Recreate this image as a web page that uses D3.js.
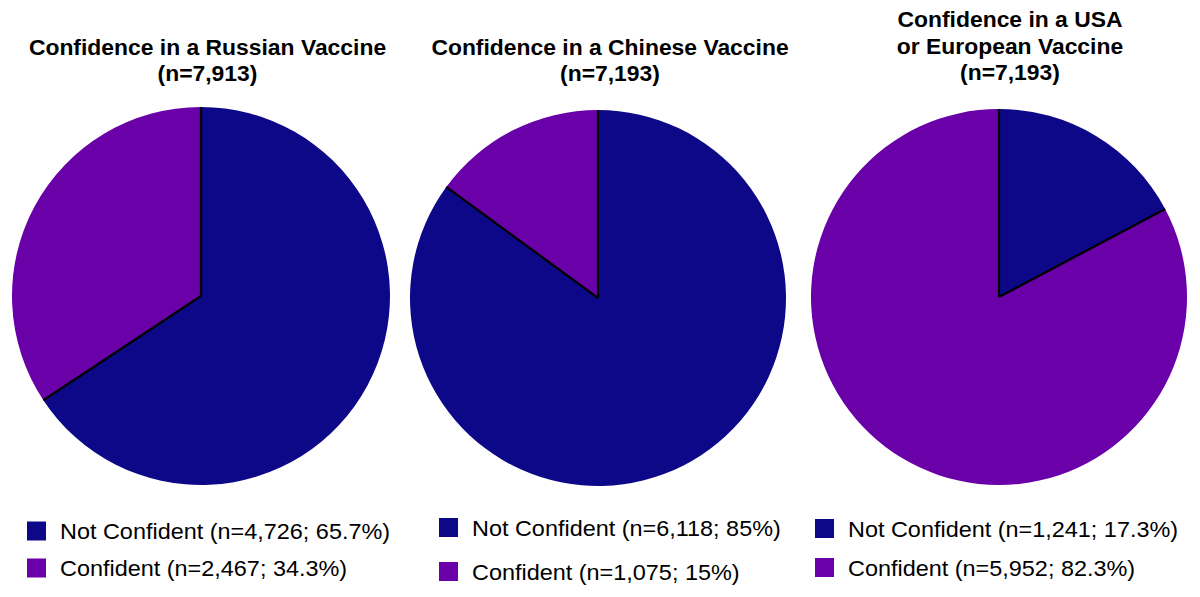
<!DOCTYPE html>
<html><head><meta charset="utf-8">
<script src="https://cdn.jsdelivr.net/npm/d3@7"></script>
<style>body{margin:0;background:#fff}svg{display:block}</style>
</head><body>
<script>
const categories = ["Not Confident", "Confident"];
const titles = [
  ["Confidence in a Russian Vaccine", "(n=7,913)"],
  ["Confidence in a Chinese Vaccine", "(n=7,193)"],
  ["Confidence in a USA", "or European Vaccine", "(n=7,193)"]
];
const counts = [[4726, 2467], [6118, 1075], [1241, 5952]];
const percents = [["65.7%", "34.3%"], ["85%", "15%"], ["17.3%", "82.3%"]];
const colors = ["#0d0887", "#6a00a8"];

const W = 1200, H = 597;
const svg = d3.select("body").append("svg").attr("width", W).attr("height", H);
const font = "'Liberation Sans', Arial, Helvetica, sans-serif";

const layout = [
  {cx: 201, cy: 296, r: 189, tx: 207.5, tyLast: 81, lx: 27, ly: [521.5, 558.5]},
  {cx: 598, cy: 298, r: 188, tx: 610, tyLast: 81, lx: 439, ly: [518, 562]},
  {cx: 999, cy: 297, r: 188, tx: 1010, tyLast: 80, lx: 815, ly: [519, 558]}
];

const pie = d3.pie().sort(null).value(d => d);
const fmt = d3.format(",");

counts.forEach((vals, i) => {
  const L = layout[i];
  const g = svg.append("g").attr("transform", `translate(${L.cx},${L.cy})`);
  const arcs = pie(vals);
  const arc = d3.arc().innerRadius(0).outerRadius(L.r);
  g.selectAll("path").data(arcs).join("path")
    .attr("d", arc).attr("fill", (d, j) => colors[j]);
  const angles = arcs.map(a => a.startAngle);
  g.selectAll("line").data(angles).join("line")
    .attr("x1", 0).attr("y1", 0)
    .attr("x2", a => L.r * Math.sin(a))
    .attr("y2", a => -L.r * Math.cos(a))
    .attr("stroke", "#000").attr("stroke-width", 2.2);

  const t = titles[i];
  t.forEach((line, k) => {
    svg.append("text")
      .attr("transform", `translate(${L.tx},${L.tyLast - (t.length - 1 - k) * 26.5}) scale(1.04,1)`)
      .attr("text-anchor", "middle")
      .attr("font-family", font).attr("font-weight", "bold")
      .attr("font-size", 22).attr("fill", "#000")
      .text(line);
  });

  categories.forEach((c, j) => {
    svg.append("rect").attr("x", L.lx).attr("y", L.ly[j])
      .attr("width", 19).attr("height", 19).attr("fill", colors[j]);
    svg.append("text")
      .attr("transform", `translate(${L.lx + 33},${L.ly[j] + 17.5}) scale(1.065,1)`)
      .attr("font-family", font).attr("font-size", 22).attr("fill", "#000")
      .text(`${c} (n=${fmt(vals[j])}; ${percents[i][j]})`);
  });
});
</script>
</body></html>
